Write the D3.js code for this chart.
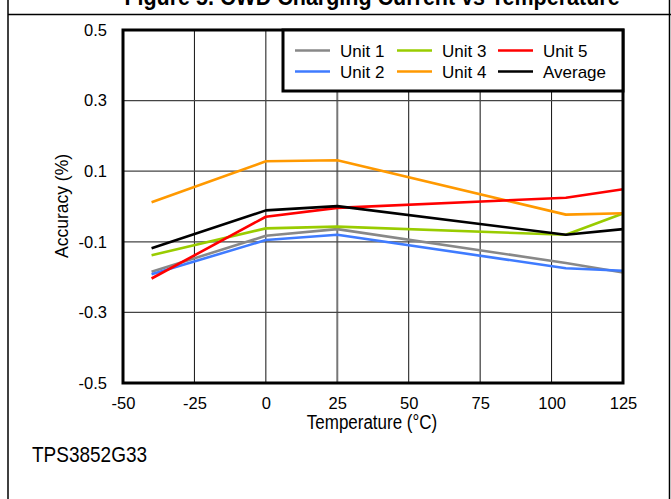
<!DOCTYPE html>
<html><head><meta charset="utf-8">
<script src="https://cdn.jsdelivr.net/npm/d3@7"></script>
<style>body{margin:0;background:#fff}svg{display:block;font-family:Arial,"Liberation Sans",sans-serif}</style>
</head><body>
<svg id="c" width="671" height="499"></svg>
<script>
const temperatures = [-40, 0, 25, 105, 125];
const unit1 = [-0.185, -0.083, -0.064, -0.160, -0.187];
const unit2 = [-0.192, -0.095, -0.080, -0.175, -0.182];
const unit3 = [-0.138, -0.062, -0.057, -0.080, -0.020];
const unit4 = [0.012, 0.128, 0.131, -0.023, -0.019];
const unit5 = [-0.204, -0.029, -0.004, 0.025, 0.049];
const average = [-0.118, -0.011, 0.001, -0.080, -0.064];
const seriesNames = ["Unit 1", "Unit 2", "Unit 3", "Unit 4", "Unit 5", "Average"];
const seriesColors = ["#888888", "#3f7bff", "#99cc00", "#ff9900", "#ff0000", "#000000"];
const xTicks = [-50, -25, 0, 25, 50, 75, 100, 125];
const yTicks = [0.5, 0.3, 0.1, -0.1, -0.3, -0.5];
const title = "Figure 5. CWD Charging Current vs Temperature";
const subtitle = "TPS3852G33";

const seriesValues = [unit1, unit2, unit3, unit4, unit5, average];
const FONT = "Arial, 'Liberation Sans', sans-serif";
const svg = d3.select("#c");
const L = 123, R = 623, T = 30, B = 383;
const x = d3.scaleLinear().domain([-50, 125]).range([L, R]);
const y = d3.scaleLinear().domain([-0.5, 0.5]).range([B, T]);
const hy = s => s.replace("\u2212", "-");

function stretchText(px, py, size, sy, txt, anchor, rot) {
  return svg.append("text")
    .attr("transform", `translate(${px},${py})` + (rot ? ` rotate(${rot})` : "") + ` scale(1,${sy})`)
    .attr("text-anchor", anchor || "start").attr("font-size", size).attr("font-family", FONT).text(txt);
}

// frame
svg.append("line").attr("x1", 8).attr("x2", 8).attr("y1", 0).attr("y2", 499).attr("stroke", "#000").attr("stroke-width", 1.5);
svg.append("line").attr("x1", 8).attr("x2", 671).attr("y1", 14.5).attr("y2", 14.5).attr("stroke", "#000").attr("stroke-width", 1.5);
svg.append("line").attr("x1", 669.5).attr("x2", 669.5).attr("y1", 0).attr("y2", 499).attr("stroke", "#000").attr("stroke-width", 1.5);
stretchText(372, 5, 21.5, 1.1, title, "middle").attr("font-weight", "bold");

// grid
const g = svg.append("g");
g.selectAll(".vg").data(xTicks.filter(d => d > -50 && d < 125)).join("line")
  .attr("x1", d => x(d)).attr("x2", d => x(d)).attr("y1", T).attr("y2", B)
  .attr("stroke", d => d === 25 ? "#777" : "#111").attr("stroke-width", d => d === 25 ? 2 : 1);
g.selectAll(".hg").data(yTicks.filter(d => d > -0.5 && d < 0.5)).join("line")
  .attr("x1", L).attr("x2", R).attr("y1", d => y(d)).attr("y2", d => y(d))
  .attr("stroke", "#444").attr("stroke-width", 1.3);

// axes
const xAxis = svg.append("g").attr("transform", `translate(0,${B})`)
  .call(d3.axisBottom(x).tickValues(xTicks).tickSize(0).tickPadding(14).tickFormat(d => hy(d3.format("d")(d))));
const yAxis = svg.append("g").attr("transform", `translate(${L},0)`)
  .call(d3.axisLeft(y).tickValues(yTicks).tickSize(0).tickPadding(16).tickFormat(d => hy(d3.format(".1f")(d))));
[xAxis, yAxis].forEach(a => {
  a.select(".domain").remove();
  a.attr("font-family", FONT).attr("font-size", 16.5);
  a.selectAll("text").attr("fill", "#000");
});

stretchText(372, 428.5, 17, 1.15, "Temperature (°C)", "middle");
stretchText(68, 206, 17.5, 1.0, "Accuracy (%)", "middle", -90);
stretchText(32, 461.5, 19, 1.2, subtitle, "start");

// lines
const line = d3.line().x((d, i) => x(temperatures[i])).y(d => y(d));
svg.selectAll(".series").data(seriesValues).join("path")
  .attr("d", d => line(d)).attr("fill", "none")
  .attr("stroke", (d, i) => seriesColors[i]).attr("stroke-width", 2.6).attr("stroke-linejoin", "round");

// plot border
svg.append("rect").attr("x", L).attr("y", T).attr("width", R - L).attr("height", B - T)
  .attr("fill", "none").attr("stroke", "#000").attr("stroke-width", 3);

// legend
const lg = svg.append("g");
lg.append("rect").attr("x", 283).attr("y", T).attr("width", R - 283).attr("height", 61)
  .attr("fill", "#fff").attr("stroke", "#000").attr("stroke-width", 3);
const order = [0, 2, 4, 1, 3, 5];
const colX = [295, 397, 498];
order.forEach((si, k) => {
  const col = k % 3, row = Math.floor(k / 3);
  const cx = colX[col], cy = 50.5 + row * 21;
  lg.append("line").attr("x1", cx).attr("x2", cx + 35).attr("y1", cy).attr("y2", cy)
    .attr("stroke", seriesColors[si]).attr("stroke-width", 2.6);
  lg.append("text").attr("x", cx + 45).attr("y", cy + 6).attr("font-size", 17).attr("font-family", FONT).text(seriesNames[si]);
});
</script>
</body></html>
